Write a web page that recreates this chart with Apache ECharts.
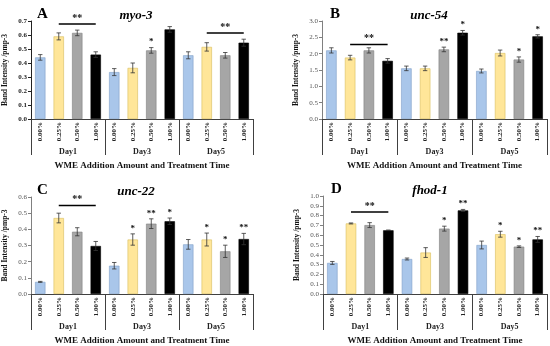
<!DOCTYPE html>
<html><head><meta charset="utf-8">
<script src="https://cdn.jsdelivr.net/npm/echarts@6/dist/echarts.min.js"></script>
<style>html,body{margin:0;padding:0;background:#fff}#c{width:550px;height:346px}</style>
</head><body><div id="c"></div>
<script>
const categories = ['0.00%','0.25%','0.50%','1.00%','0.00%','0.25%','0.50%','1.00%','0.00%','0.25%','0.50%','1.00%'];
const groups = ['Day1','Day3','Day5'];
const barColors = ['#A9C6EA','#FFE699','#A6A6A6','#000000'];
const barBorders = ['#7F9FC8','#D9BE5C','#808080','#000000'];

const myo3Values = [0.44,0.59,0.615,0.46, 0.335,0.365,0.49,0.64, 0.455,0.515,0.455,0.545];
const myo3Errors = [0.02,0.025,0.02,0.02, 0.025,0.035,0.02,0.02, 0.025,0.03,0.02,0.025];
const myo3Stars  = ['','','','', '','','*','', '','','',''];
const myo3Brackets = [[1,3,0.678,'**'],[9,11,0.614,'**']];

const unc54Values = [2.10,1.88,2.10,1.78, 1.55,1.55,2.13,2.64, 1.47,2.02,1.82,2.53];
const unc54Errors = [0.08,0.07,0.08,0.07, 0.07,0.07,0.07,0.07, 0.06,0.09,0.08,0.05];
const unc54Stars  = ['','','','', '','','**','*', '','','*','*'];
const unc54Brackets = [[1,3,2.28,'**']];

const unc22Values = [0.075,0.47,0.385,0.297, 0.175,0.337,0.435,0.45, 0.307,0.337,0.264,0.34];
const unc22Errors = [0.003,0.03,0.025,0.028, 0.02,0.035,0.03,0.02, 0.03,0.04,0.038,0.035];
const unc22Stars  = ['','','','', '','*','**','*', '','*','*','**'];
const unc22Brackets = [[1,3,0.547,'**']];

const fhod1Values = [0.317,0.72,0.703,0.65, 0.357,0.423,0.667,0.853, 0.5,0.61,0.483,0.557];
const fhod1Errors = [0.015,0.005,0.025,0.003, 0.01,0.05,0.025,0.01, 0.04,0.03,0.008,0.03];
const fhod1Stars  = ['','','','', '','','*','**', '','*','*','**'];
const fhod1Brackets = [[1,3,0.837,'**']];

const panels = [
  {letter:'A', gene:'myo-3', values:myo3Values, errors:myo3Errors, stars:myo3Stars, brackets:myo3Brackets, max:0.7, interval:0.1,
   grid:{left:29, top:21, width:224, height:98}, boldTicks:true},
  {letter:'B', gene:'unc-54', values:unc54Values, errors:unc54Errors, stars:unc54Stars, brackets:unc54Brackets, max:3.0, interval:0.5,
   grid:{left:322, top:21, width:225, height:98}, boldTicks:false},
  {letter:'C', gene:'unc-22', values:unc22Values, errors:unc22Errors, stars:unc22Stars, brackets:unc22Brackets, max:0.6, interval:0.1,
   grid:{left:29, top:197, width:224, height:99}, boldTicks:false},
  {letter:'D', gene:'fhod-1', values:fhod1Values, errors:fhod1Errors, stars:fhod1Stars, brackets:fhod1Brackets, max:1.0, interval:0.1,
   grid:{left:323, top:196, width:224, height:100}, boldTicks:false}
];

const FONT = '"Liberation Serif", "Times New Roman", serif';
const grids = [], xAxes = [], yAxes = [], series = [], titles = [];

panels.forEach((p, k) => {
  grids.push(Object.assign({containLabel:false}, p.grid));
  xAxes.push({
    type:'category', gridIndex:k, data:categories, position:'bottom',
    axisLine:{show:true, lineStyle:{color:'#404040', width:1}},
    axisTick:{show:false},
    axisLabel:{rotate:90, interval:0, fontSize:7, fontWeight:'bold', fontFamily:FONT, color:'#222', margin:3}
  });
  xAxes.push({
    type:'category', gridIndex:k, data:groups, position:'bottom', boundaryGap:true,
    axisLine:{show:false},
    axisTick:{show:true, length:36, lineStyle:{color:'#404040', width:1}},
    axisLabel:{interval:0, fontSize:8, fontWeight:'bold', fontFamily:FONT, color:'#222', margin:29},
    name:'WME Addition Amount and Treatment Time', nameLocation:'middle', nameGap:42,
    nameTextStyle:{fontSize:9, fontWeight:'bold', fontFamily:FONT, color:'#111'}
  });
  yAxes.push({
    type:'value', gridIndex:k, min:0, max:p.max, interval:p.interval,
    splitLine:{show:false},
    axisLine:{show:true, lineStyle:{color:p.boldTicks?'#222':'#808080'}},
    axisTick:{show:true, length:3, lineStyle:{color:p.boldTicks?'#222':'#808080'}},
    axisLabel:{fontSize:7, fontFamily:FONT, fontWeight:p.boldTicks?'bold':'normal', color:p.boldTicks?'#222':'#555', margin:4,
      formatter:v=>v.toFixed(1)},
    name:'Band Intensity /pmp-3', nameLocation:'middle', nameGap:22,
    nameTextStyle:{fontSize:7.5, fontWeight:'bold', fontFamily:FONT, color:'#111'}
  });
  series.push({
    type:'bar', xAxisIndex:2*k, yAxisIndex:k, barWidth:'56%',
    data:p.values.map((v,i)=>({value:v, itemStyle:{color:barColors[i%4], borderColor:barBorders[i%4], borderWidth:0.6}})),
    silent:true, animation:false
  });
  series.push({
    type:'custom', xAxisIndex:2*k, yAxisIndex:k, animation:false, silent:true, z:5,
    data:p.values.map((v,i)=>[i, v, p.errors[i]]),
    renderItem:(params, api)=>{
      const i = api.value(0), v = api.value(1), e = api.value(2);
      const hi = api.coord([i, v+e]), lo = api.coord([i, v-e]);
      const x = hi[0], w = 2.2;
      const st = {stroke:'#333', lineWidth:0.8};
      const children = [
        {type:'line', shape:{x1:x,y1:hi[1],x2:x,y2:lo[1]}, style:st},
        {type:'line', shape:{x1:x-w,y1:hi[1],x2:x+w,y2:hi[1]}, style:st},
        {type:'line', shape:{x1:x-w,y1:lo[1],x2:x+w,y2:lo[1]}, style:st}
      ];
      const s = p.stars[params.dataIndex];
      if (s) children.push({type:'text', x:x, y:hi[1]-1, style:{text:s, fontSize:9, fontWeight:'bold', fontFamily:FONT, fill:'#111', align:'center', verticalAlign:'bottom'}});
      return {type:'group', children};
    }
  });
  series.push({
    type:'custom', xAxisIndex:2*k, yAxisIndex:k, animation:false, silent:true, z:6,
    data:p.brackets.map(b=>[b[0], b[1], b[2]]),
    renderItem:(params, api)=>{
      const a = api.coord([api.value(0), api.value(2)]);
      const b = api.coord([api.value(1), api.value(2)]);
      const lbl = p.brackets[params.dataIndex][3];
      return {type:'group', children:[
        {type:'line', shape:{x1:a[0],y1:a[1],x2:b[0],y2:b[1]}, style:{stroke:'#000', lineWidth:1.5}},
        {type:'text', x:(a[0]+b[0])/2, y:a[1]-1, style:{text:lbl, fontSize:10, fontWeight:'bold', fontFamily:FONT, fill:'#111', align:'center', verticalAlign:'bottom'}}
      ]};
    }
  });
  titles.push({text:p.letter, left:p.grid.left+3, top:p.grid.top-19,
    textStyle:{fontSize:15, fontWeight:'bold', fontFamily:FONT, color:'#000'}});
  titles.push({text:p.gene, left:p.grid.left+102, top:p.grid.top-17, textAlign:'center',
    textStyle:{fontSize:13, fontWeight:'bold', fontStyle:'italic', fontFamily:FONT, color:'#000'}});
});

const chart = echarts.init(document.getElementById('c'), null, {renderer:'canvas'});
chart.setOption({animation:false, backgroundColor:'#fff', title:titles, grid:grids, xAxis:xAxes, yAxis:yAxes, series});
</script></body></html>
